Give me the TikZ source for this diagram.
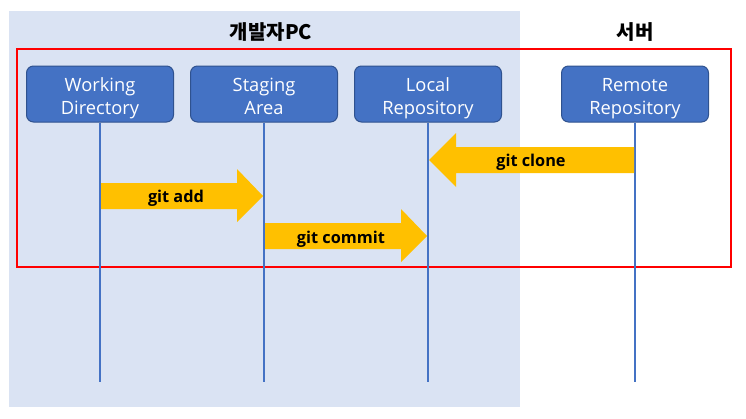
\documentclass[tikz,border=0pt]{standalone}
\usepackage{fontspec}
\setmainfont{Open Sans}
\newfontfamily\kr{Noto Sans CJK KR}
\definecolor{bgblue}{HTML}{DAE3F3}
\definecolor{boxblue}{HTML}{4472C4}
\definecolor{boxedge}{HTML}{2F528F}
\definecolor{arrowy}{HTML}{FFC000}
\begin{document}
\begin{tikzpicture}[x=1pt,y=-1pt,
  actor/.style={draw=boxedge,line width=1pt,fill=boxblue,rounded corners=7pt,minimum width=147pt,minimum height=56pt},
  atext/.style={text=white,align=center,font=\fontsize{18.3}{23}\selectfont,yshift=-4pt,inner sep=0pt},
  life/.style={draw=boxblue,line width=2pt},
  blk/.style={fill=arrowy},
  lbl/.style={font=\fontsize{16.3}{18}\selectfont\bfseries,text=black,yshift=-2pt},
  title/.style={font=\kr\fontsize{20}{22}\selectfont\bfseries,yshift=-1pt}]
\useasboundingbox (0,0) rectangle (746,418);
\fill[bgblue] (9,11) rectangle (520,407);
\node[title] (t1) at (271,31) {개발자PC};
\node[title] (t2) at (635,31) {서버};
\draw[red,line width=1.3pt] (17,49) rectangle (731,267);
\node[actor] (wd) at (100,94) {};
\node[actor] (sa) at (264,94) {};
\node[actor] (lr) at (428,94) {};
\node[actor] (rr) at (635,94) {};
\node[atext] (wdt) at (wd) {Working\strut\\Directory\strut};
\node[atext] (sat) at (sa) {Staging\strut\\Area\strut};
\node[atext] (lrt) at (lr) {Local\strut\\Repository\strut};
\node[atext] (rrt) at (rr) {Remote\strut\\Repository\strut};
\coordinate (wde) at (100,382);
\coordinate (sae) at (264,382);
\coordinate (lre) at (428,382);
\coordinate (rre) at (635,382);
\draw[life] (wd.south) -- (wde);
\draw[life] (sa.south) -- (sae);
\draw[life] (lr.south) -- (lre);
\draw[life] (rr.south) -- (rre);
% git clone
\fill[blk] (634,147) -- (456,147) -- (456,133) -- (429,160) -- (456,187) -- (456,173) -- (634,173) -- cycle;
\node[lbl] (gc) at (531,160) {git clone};
% git add
\fill[blk] (101,183) -- (237,183) -- (237,169) -- (263,196) -- (237,222) -- (237,209) -- (101,209) -- cycle;
\node[lbl] (ga) at (176,196) {git add};
% git commit
\fill[blk] (265,223) -- (401,223) -- (401,209) -- (427,236) -- (401,262) -- (401,249) -- (265,249) -- cycle;
\node[lbl] (gm) at (341,237) {git commit};
\end{tikzpicture}
\end{document}
